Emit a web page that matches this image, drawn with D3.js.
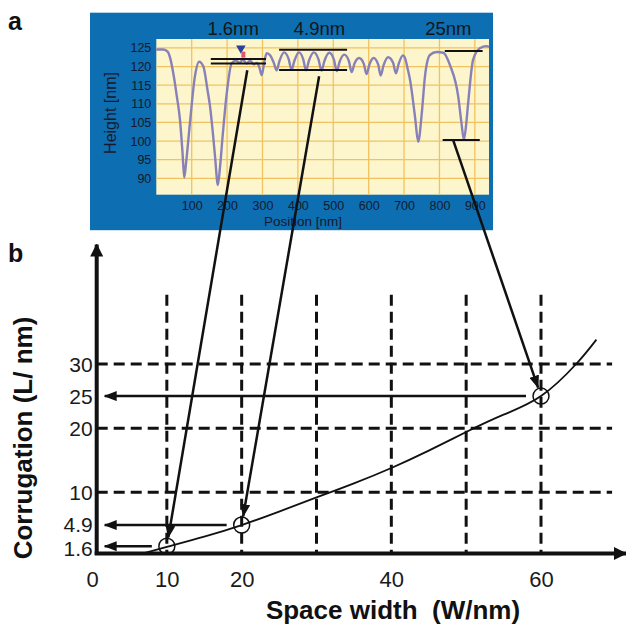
<!DOCTYPE html>
<html>
<head>
<meta charset="utf-8">
<script src="https://cdn.jsdelivr.net/npm/d3@7"></script>
<style>
  body { margin: 0; background: #fff; }
  text { font-family: "Liberation Sans", Arial, sans-serif; }
</style>
</head>
<body>
<div id="chart"></div>
<script>
// panel a: AFM height profile [position nm, height nm]
const profile = [
  [0, 124.6], [20, 124.6], [32, 124], [40, 122], [48, 118.2], [58, 112], [67, 105.6],
  [74, 97], [79, 90.2], [84, 94], [95, 104.8], [109, 117.3], [121, 121.3], [133, 120],
  [145, 113.5], [152, 109.2], [160, 102], [166, 95.8], [174, 88.2], [180, 93], [188, 102],
  [199, 112.8], [213, 120.9], [225, 121.6], [235, 121.0], [245, 121.8], [255, 120.8],
  [265, 121.6], [275, 120.6], [285, 121], [292, 119.5], [298, 117.7], [305, 121.2],
  [312, 123.6], [322, 123], [332, 121], [340, 119], [348, 121.5], [361, 123.8], [374, 122],
  [382, 119.1], [390, 121.5], [403, 123.8], [415, 122], [423, 119], [431, 121.5],
  [445, 123.8], [458, 122], [467, 118.9], [475, 121.5], [489, 123.7], [502, 121.8],
  [510, 118.8], [518, 121.3], [531, 123.2], [544, 121.5], [552, 118.5], [560, 120.8],
  [573, 122.3], [586, 120.8], [594, 118], [602, 120.5], [614, 122.3], [627, 120.5],
  [634, 117.6], [642, 120.3], [655, 122.5], [669, 121], [677, 118.2], [685, 120.8],
  [697, 123], [703, 122.2], [710, 119.5], [717, 116.4], [731, 106.5], [740, 99.8],
  [750, 107.4], [759, 117.3], [773, 123.1], [792, 123.9], [811, 123.7], [830, 120.3],
  [853, 112], [862, 105], [869, 100.4], [875, 104], [881, 110.1], [895, 121.8],
  [914, 124.9], [933, 125.5], [940, 125.3]
];
const posTicks = [100, 200, 300, 400, 500, 600, 700, 800, 900];
const heightTicks = [90, 95, 100, 105, 110, 115, 120, 125];

// measurement bars in panel a: [label, label position, [x0, x1, height] ...]
const steps = [
  {label: '1.6nm', at: 217, bars: [[154, 310, 122.0], [154, 310, 120.8]]},
  {label: '4.9nm', at: 461, bars: [[347, 539, 124.5], [347, 539, 119.1]]},
  {label: '25nm', at: 825, bars: [[815, 922, 124.2], [809, 914, 100.3]]}
];

// panel b
const curve = [
  [6.6, 0.4], [10, 1.5], [15, 3.1], [20, 4.9], [25, 7.0], [30, 9.2], [35, 11.4],
  [40, 13.8], [45, 16.5], [50, 19.4], [55, 22.1], [60, 25], [64.7, 30], [67.4, 33.8]
];
const widthTicks = [0, 10, 20, 40, 60];
const corrTicks = [1.6, 4.9, 10, 20, 25, 30];
const gridX = [10, 20, 30, 40, 50, 60];
const gridY = [10, 20, 30];
// measured points, and where the arrow from panel a starts [position, height]
const points = [
  {w: 10, c: 1.6, from: [257, 119]},
  {w: 20, c: 4.9, from: [460, 117.4]},
  {w: 60, c: 25, from: [839, 100.2]}
];

const font = '"Liberation Sans", Arial, sans-serif';
const width = 626;
const height = 633;
const svg = d3.select('#chart').append('svg')
    .attr('width', width)
    .attr('height', height);

const defs = svg.append('defs');
defs.append('marker')
    .attr('id', 'head')
    .attr('markerUnits', 'userSpaceOnUse')
    .attr('viewBox', '0 0 13 10')
    .attr('refX', 12).attr('refY', 5)
    .attr('markerWidth', 13).attr('markerHeight', 10)
    .attr('orient', 'auto')
    .append('path').attr('d', 'M0,0L13,5L0,10Z').attr('fill', '#111');
defs.append('marker')
    .attr('id', 'bighead')
    .attr('markerUnits', 'userSpaceOnUse')
    .attr('viewBox', '0 0 13 13')
    .attr('refX', 12).attr('refY', 6.5)
    .attr('markerWidth', 13).attr('markerHeight', 13)
    .attr('orient', 'auto')
    .append('path').attr('d', 'M0,0L13,6.5L0,13Z').attr('fill', '#111');

// ---------- panel a ----------
const xA = d3.scaleLinear().domain([0, 940]).range([156.3, 489]);
const yA = d3.scaleLinear().domain([85.6, 127.4]).range([194.7, 39]);

svg.append('rect')
    .attr('x', 90).attr('y', 12.7)
    .attr('width', 403).attr('height', 217.5)
    .attr('fill', '#0d6eb2');

svg.append('rect')
    .attr('x', xA(0)).attr('y', yA(127.4))
    .attr('width', xA(940) - xA(0)).attr('height', yA(85.6) - yA(127.4))
    .attr('fill', '#fdf5cc');

const gA = svg.append('g');
gA.selectAll('.vg').data(posTicks).join('line')
    .attr('x1', (d) => xA(d)).attr('x2', (d) => xA(d))
    .attr('y1', yA(127.4)).attr('y2', yA(85.6))
    .attr('stroke', '#f1c360').attr('stroke-width', 1.3);
gA.selectAll('.hg').data(heightTicks).join('line')
    .attr('x1', xA(0)).attr('x2', xA(940))
    .attr('y1', (d) => yA(d)).attr('y2', (d) => yA(d))
    .attr('stroke', '#f1c360').attr('stroke-width', 1.3);

const axA = svg.append('g')
    .attr('transform', `translate(0,${yA(85.6)})`)
    .call(d3.axisBottom(xA).tickValues(posTicks).tickSize(0).tickPadding(6));
const axAy = svg.append('g')
    .attr('transform', `translate(${xA(0) - 4},0)`)
    .call(d3.axisLeft(yA).tickValues(heightTicks).tickSize(0).tickPadding(1));
[axA, axAy].forEach((ax) => {
  ax.attr('font-family', font).attr('font-size', 12.5);
  ax.select('.domain').remove();
  ax.selectAll('text').attr('fill', '#16192a');
});

svg.append('text')
    .attr('transform', 'translate(116,113) rotate(-90)')
    .attr('text-anchor', 'middle')
    .attr('fill', '#16192a')
    .style('font-size', '16px')
    .text('Height [nm]');
svg.append('text')
    .attr('x', 303).attr('y', 226)
    .attr('text-anchor', 'middle')
    .attr('fill', '#16192a')
    .style('font-size', '13.5px')
    .text('Position [nm]');

svg.append('path')
    .datum(profile)
    .attr('fill', 'none')
    .attr('stroke', '#8781b8')
    .attr('stroke-width', 2.4)
    .attr('d', d3.line()
        .x((d) => xA(d[0]))
        .y((d) => yA(d[1]))
        .curve(d3.curveMonotoneX));

// cursor markers on the profile
svg.append('path')
    .attr('d', d3.symbol(d3.symbolTriangle, 40)())
    .attr('transform', `translate(${xA(239)},${yA(124.9)}) rotate(180)`)
    .attr('fill', '#2b3f9e');
svg.append('rect')
    .attr('x', xA(246) - 2).attr('y', yA(124.0))
    .attr('width', 4).attr('height', 6)
    .attr('fill', '#e2566c');

steps.forEach((s) => {
  svg.append('text')
      .attr('x', xA(s.at)).attr('y', 35)
      .attr('text-anchor', 'middle')
      .attr('fill', '#151515')
      .style('font-size', '18.5px')
      .text(s.label);
  svg.selectAll(null).data(s.bars).join('line')
      .attr('x1', (d) => xA(d[0])).attr('x2', (d) => xA(d[1]))
      .attr('y1', (d) => yA(d[2])).attr('y2', (d) => yA(d[2]))
      .attr('stroke', '#111').attr('stroke-width', 2);
});

// ---------- panel b ----------
const xB = d3.scaleLinear().domain([0, 60]).range([92, 541]);
const yB = d3.scaleLinear().domain([0, 30]).range([556.5, 364]);
const axisX = 96.7;
const axisY = 553.5;

svg.selectAll('.gx').data(gridX).join('line')
    .attr('x1', (d) => xB(d)).attr('x2', (d) => xB(d))
    .attr('y1', yB(40.8)).attr('y2', axisY)
    .attr('stroke', '#111').attr('stroke-width', 3)
    .attr('stroke-dasharray', '11,6');
svg.selectAll('.gy').data(gridY).join('line')
    .attr('x1', axisX).attr('x2', xB(69.5))
    .attr('y1', (d) => yB(d)).attr('y2', (d) => yB(d))
    .attr('stroke', '#111').attr('stroke-width', 3)
    .attr('stroke-dasharray', '11,6');

svg.append('path')
    .datum(curve)
    .attr('fill', 'none')
    .attr('stroke', '#111')
    .attr('stroke-width', 1.8)
    .attr('d', d3.line()
        .x((d) => xB(d[0]))
        .y((d) => yB(d[1]))
        .curve(d3.curveNatural));

svg.selectAll('.pt').data(points).join('circle')
    .attr('cx', (d) => xB(d.w)).attr('cy', (d) => yB(d.c))
    .attr('r', 8)
    .attr('fill', 'none')
    .attr('stroke', '#111').attr('stroke-width', 1.5);

// arrows to the corrugation axis
svg.selectAll('.ha').data(points).join('line')
    .attr('x1', (d) => xB(d.w) - 15).attr('x2', axisX + 8)
    .attr('y1', (d) => yB(d.c)).attr('y2', (d) => yB(d.c))
    .attr('stroke', '#111').attr('stroke-width', 2.5)
    .attr('marker-end', 'url(#head)');

// arrows from panel a to panel b
svg.selectAll('.la').data(points).join('line')
    .each(function(d) {
      const x0 = xA(d.from[0]);
      const y0 = yA(d.from[1]);
      const cx = xB(d.w);
      const cy = yB(d.c);
      const len = Math.hypot(cx - x0, cy - y0);
      d3.select(this)
          .attr('x1', x0).attr('y1', y0)
          .attr('x2', cx - (cx - x0) / len * 9)
          .attr('y2', cy - (cy - y0) / len * 9);
    })
    .attr('stroke', '#111').attr('stroke-width', 2.5)
    .attr('marker-end', 'url(#head)');

// axes with arrow heads
svg.append('line')
    .attr('x1', axisX).attr('x2', axisX)
    .attr('y1', axisY + 1.5).attr('y2', 244.5)
    .attr('stroke', '#111').attr('stroke-width', 4)
    .attr('marker-end', 'url(#bighead)');
svg.append('line')
    .attr('x1', axisX - 2).attr('x2', 626)
    .attr('y1', axisY).attr('y2', axisY)
    .attr('stroke', '#111').attr('stroke-width', 4)
    .attr('marker-end', 'url(#bighead)');

const axB = svg.append('g')
    .attr('transform', `translate(0,${axisY})`)
    .call(d3.axisBottom(xB).tickValues(widthTicks).tickSize(0).tickPadding(18));
const axBy = svg.append('g')
    .attr('transform', `translate(${axisX},0)`)
    .call(d3.axisLeft(yB).tickValues(corrTicks).tickFormat((d) => d).tickSize(0).tickPadding(4));
axB.attr('font-family', font).attr('font-size', 22);
axBy.attr('font-family', font).attr('font-size', 21);
[axB, axBy].forEach((ax) => {
  ax.select('.domain').remove();
  ax.selectAll('text').attr('fill', '#1a1a1a');
});
// the two lowest labels sit close together: spread them a little
axBy.selectAll('text')
    .attr('dy', '0.36em')
    .attr('y', (d) => (d === 1.6 ? 1.5 : d === 4.9 ? -1.5 : 0));

svg.append('text')
    .attr('transform', 'translate(32,438) rotate(-90)')
    .attr('text-anchor', 'middle')
    .attr('fill', '#111')
    .style('font-size', '26px')
    .style('font-weight', 'bold')
    .text('Corrugation (L/ nm)');
svg.append('text')
    .attr('x', 393).attr('y', 619)
    .attr('text-anchor', 'middle')
    .attr('fill', '#111')
    .style('font-size', '26px')
    .style('font-weight', 'bold')
    .style('white-space', 'pre')
    .text('Space width  (W/nm)');

// panel letters
svg.append('text').attr('x', 8).attr('y', 30)
    .style('font-size', '25px').style('font-weight', 'bold').attr('fill', '#111')
    .text('a');
svg.append('text').attr('x', 8).attr('y', 262)
    .style('font-size', '25px').style('font-weight', 'bold').attr('fill', '#111')
    .text('b');
</script>
</body>
</html>
